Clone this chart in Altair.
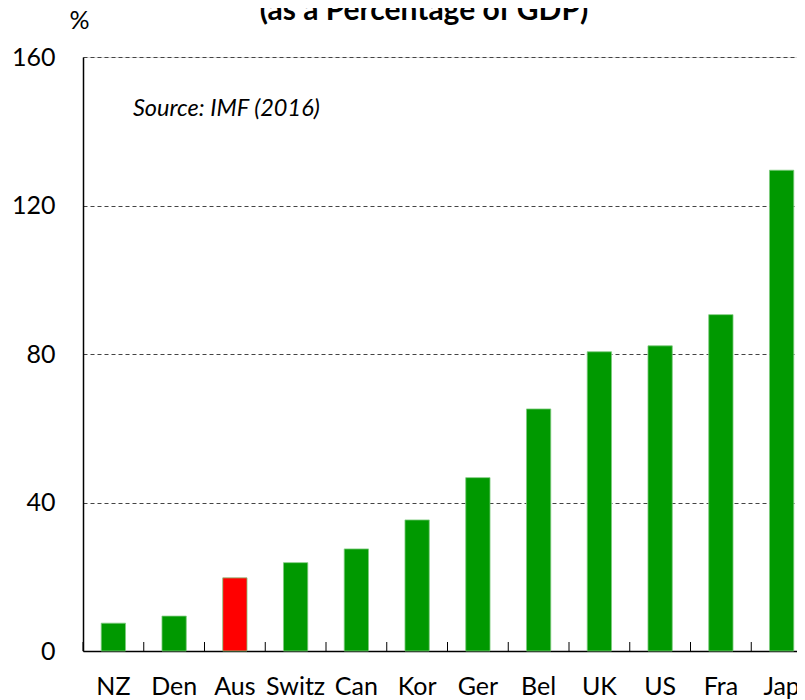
import altair as alt
import pandas as pd

countries = ["NZ", "Den", "Aus", "Switz", "Can", "Kor", "Ger", "Bel", "UK", "US", "Fra", "Jap"]
debt = [7.5, 9.4, 19.7, 23.8, 27.5, 35.3, 46.7, 65.2, 80.6, 82.2, 90.6, 129.5]
y_ticks = [0, 40, 80, 120, 160]
highlight = "Aus"
title_text = ["(as a Percentage of GDP)"]
source_text = ["Source: IMF (2016)"]
unit_text = "%"

df = pd.DataFrame({"country": countries, "debt": debt})
src = pd.DataFrame({"t": source_text})
ttl = pd.DataFrame({"t": title_text})

FONT = "Lato"
W, H = 714, 594      # visible view width (svg must not overflow the window)
RANGE_W = 729        # full category range; the last bit is cut at the window edge

x_scale = alt.Scale(domain=countries, paddingInner=0.6, paddingOuter=0.3, range=[0, RANGE_W])
y_scale = alt.Scale(domain=[0, 160], nice=False)

bars = alt.Chart(df).mark_bar(stroke="#7fcc7f", strokeWidth=0.8).encode(
    x=alt.X("country:N", sort=countries, scale=x_scale,
            axis=alt.Axis(title=None, labelAngle=0, ticks=False, labelPadding=23,
                          labelFontSize=25, labelFont=FONT, labelColor="black",
                          domainColor="black", domainWidth=1.5, grid=False)),
    y=alt.Y("debt:Q", scale=y_scale,
            axis=alt.Axis(values=y_ticks, title=unit_text, titleAngle=0, titleX=-4, titleY=-29,
                          titleAlign="center", titleBaseline="alphabetic", titleFont=FONT,
                          titleFontSize=25, titleFontWeight="normal", titleColor="black",
                          labelFontSize=25, labelFont=FONT, labelColor="black", ticks=False,
                          labelPadding=28, grid=True, gridDash=[4, 3], gridColor="#444444",
                          domainColor="black", domainWidth=1.5)),
    color=alt.condition(alt.datum.country == highlight, alt.value("#ff0000"), alt.value("#009900")),
)

ticks = alt.Chart(df).mark_rule(color="black", strokeWidth=1).encode(
    x=alt.X("country:N", sort=countries,
            scale=alt.Scale(domain=countries, paddingInner=0, paddingOuter=0, range=[0, RANGE_W]),
            bandPosition=0, axis=None),
    y=alt.value(H),
    y2=alt.value(H - 9),
)

source = alt.Chart(src).mark_text(font=FONT, fontSize=23.5, fontStyle="italic", align="left",
                                  baseline="alphabetic", color="black").encode(
    text="t:N", x=alt.value(50), y=alt.value(59)
)

title = alt.Chart(ttl).mark_text(font=FONT, fontSize=30, fontWeight="bold", align="center",
                                 baseline="alphabetic", color="black").encode(
    text="t:N", x=alt.value(341), y=alt.value(-37)
)

chart = alt.layer(bars, ticks, source, title).resolve_scale(x="independent").properties(
    width=W, height=H,
    padding={"left": 75, "top": 49, "right": 0, "bottom": 56},
    autosize=alt.AutoSizeParams(type="none"),
).configure_view(stroke=None).configure(font=FONT)

chart.save("out.html", embed_options={"renderer": "svg", "actions": False})
